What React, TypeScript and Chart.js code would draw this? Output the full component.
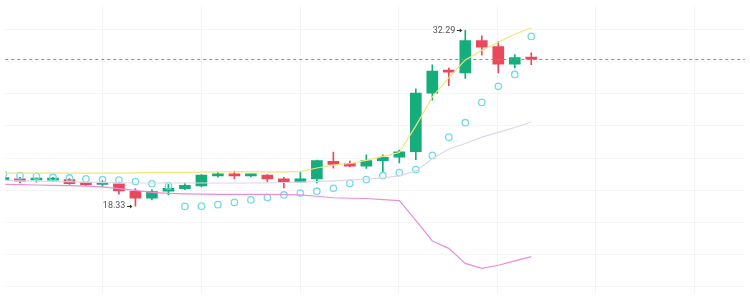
import React, { useEffect, useRef } from 'react';
import { Chart, registerables } from 'chart.js';

Chart.register(...registerables);

// ---- data ----
const candleIndex = [0, 1, 2, 3, 4, 5, 6, 7, 8, 9, 10, 11, 12, 13, 14, 15, 16, 17, 18, 19, 20, 21, 22, 23, 24, 25, 26, 27, 28, 29, 30, 31, 32];

const opens = [20.44, 20.50, 20.41, 20.40, 20.44, 20.11, 20.06, 20.11, 19.50, 18.96, 19.52, 19.71, 19.94, 20.73, 20.88, 20.73, 20.80, 20.50, 20.24, 20.50, 21.90, 21.72, 21.51, 21.95, 22.22, 22.66, 27.31, 29.13, 28.92, 31.47, 31.01, 29.61, 30.12];
const closes = [20.47, 20.32, 20.43, 20.52, 20.11, 20.04, 20.17, 19.55, 18.96, 19.48, 19.75, 19.98, 20.80, 20.88, 20.73, 20.82, 20.50, 20.24, 20.50, 21.95, 21.64, 21.51, 21.95, 22.20, 22.64, 27.31, 29.05, 28.97, 31.47, 30.96, 29.61, 30.12, 30.01];
const highs = [20.55, 20.63, 20.57, 20.63, 20.52, 20.19, 20.37, 20.24, 19.73, 19.65, 20.06, 20.17, 20.84, 21.01, 21.11, 20.88, 20.84, 20.63, 21.09, 21.99, 22.62, 21.91, 22.41, 22.41, 22.79, 27.64, 29.55, 29.30, 32.29, 31.85, 31.39, 30.37, 30.50];
const lows = [20.36, 20.17, 20.24, 20.32, 20.06, 19.96, 19.86, 19.29, 18.33, 18.83, 19.22, 19.65, 19.86, 20.63, 20.50, 20.65, 20.27, 19.78, 20.21, 20.17, 21.34, 21.45, 21.32, 21.01, 21.77, 22.03, 26.75, 27.90, 28.48, 30.32, 28.92, 29.30, 29.56];

const sarValues = [20.88, 20.75, 20.70, 20.63, 20.57, 20.50, 20.44, 20.40, 20.29, 20.11, 19.94, 18.31, 18.33, 18.45, 18.63, 18.83, 19.02, 19.22, 19.37, 19.52, 19.75, 20.14, 20.44, 20.75, 20.99, 21.24, 22.36, 23.81, 24.96, 26.57, 27.85, 28.79, 31.81];
const upperBand = [20.96, 20.96, 20.96, 20.96, 20.96, 20.96, 20.96, 20.96, 20.98, 21.01, 21.01, 21.01, 21.03, 21.05, 21.05, 21.05, 21.05, 21.05, 21.07, 21.36, 21.59, 21.72, 21.97, 22.28, 22.59, 24.71, 27.00, 28.54, 29.94, 30.70, 31.35, 31.98, 32.50];
const middleBand = [20.38, 20.34, 20.32, 20.29, 20.27, 20.24, 20.21, 20.19, 20.17, 20.17, 20.17, 20.17, 20.17, 20.17, 20.17, 20.17, 20.18, 20.21, 20.24, 20.29, 20.34, 20.40, 20.47, 20.57, 20.73, 21.13, 22.10, 22.87, 23.31, 23.81, 24.19, 24.58, 25.01];
const lowerBand = [20.06, 20.04, 20.01, 19.98, 19.96, 19.92, 19.86, 19.73, 19.58, 19.42, 19.35, 19.31, 19.29, 19.27, 19.27, 19.27, 19.27, 19.25, 19.22, 19.12, 19.00, 18.96, 18.94, 18.85, 18.77, 17.20, 15.57, 14.98, 13.79, 13.40, 13.64, 13.99, 14.32];

const xRange = [0.11, 44.94];
const yRange = [11.38, 34.28];
const gridColumns = [100, 200, 300, 400, 500, 600, 700];
const gridRows = [25, 58.33, 91.67, 125, 158.33, 191.67, 225, 258.33, 291.67];

const UP = '#16ad7d';
const DOWN = '#e84a5c';
const GRID = 'rgba(0,0,0,0.04)';

const candleColors = candleIndex.map((i) => (closes[i] >= opens[i] ? UP : DOWN));

const overlayPlugin = {
  id: 'overlay',
  afterDatasetsDraw(chart: any) {
    const { ctx, chartArea } = chart;
    const x = chart.scales.x;
    const y = chart.scales.y;
    // last price dashed line
    const last = closes[closes.length - 1];
    const ly = Math.round(y.getPixelForValue(last)) + 0.5;
    ctx.save();
    ctx.strokeStyle = '#ea6270';
    ctx.lineWidth = 1;
    ctx.setLineDash([3, 3]);
    ctx.beginPath();
    ctx.moveTo(chartArea.left, ly);
    ctx.lineTo(chartArea.right, ly);
    ctx.stroke();
    ctx.restore();

    // extremes
    let hi = 0;
    let lo = 0;
    highs.forEach((v, i) => { if (v > highs[hi]) hi = i; });
    lows.forEach((v, i) => { if (v < lows[lo]) lo = i; });
    const mark = (i: number, v: number) => {
      const px = x.getPixelForValue(candleIndex[i]);
      const py = y.getPixelForValue(v);
      ctx.save();
      ctx.font = '9px Roboto, "Liberation Sans", sans-serif';
      ctx.fillStyle = '#555';
      ctx.textAlign = 'right';
      ctx.textBaseline = 'middle';
      ctx.fillText(v.toFixed(2), px - 10, py);
      ctx.strokeStyle = '#333';
      ctx.fillStyle = '#333';
      ctx.lineWidth = 1;
      const ay = Math.round(py) + 0.5;
      ctx.beginPath();
      ctx.moveTo(px - 8.5, ay);
      ctx.lineTo(px - 5, ay);
      ctx.stroke();
      ctx.beginPath();
      ctx.moveTo(px - 3, ay);
      ctx.lineTo(px - 5.5, ay - 2);
      ctx.lineTo(px - 5.5, ay + 2);
      ctx.closePath();
      ctx.fill();
      ctx.restore();
    };
    mark(hi, highs[hi]);
    mark(lo, lows[lo]);
  },
};

export default function App() {
  const canvasRef = useRef<HTMLCanvasElement | null>(null);

  useEffect(() => {
    if (!canvasRef.current) return;
    const chart = new Chart(canvasRef.current, {
      type: 'bar',
      data: {
        datasets: [
          {
            type: 'line',
            data: candleIndex.map((i) => ({ x: i, y: upperBand[i] })),
            borderColor: '#f5e27c',
            borderWidth: 1.2,
            pointRadius: 0,
            tension: 0,
            order: 0,
          } as any,
          {
            type: 'line',
            data: candleIndex.map((i) => ({ x: i, y: middleBand[i] })),
            borderColor: '#ddd6e8',
            borderWidth: 1.2,
            pointRadius: 0,
            tension: 0,
            order: 0,
          } as any,
          {
            type: 'line',
            data: candleIndex.map((i) => ({ x: i, y: lowerBand[i] })),
            borderColor: '#ea8ed8',
            borderWidth: 1.2,
            pointRadius: 0,
            tension: 0,
            order: 0,
          } as any,
          {
            type: 'line',
            data: candleIndex.map((i) => ({ x: i, y: sarValues[i] })),
            showLine: false,
            pointRadius: 3.2,
            pointStyle: 'circle',
            pointBorderColor: '#72dbe8',
            pointBackgroundColor: 'rgba(255,255,255,0)',
            pointBorderWidth: 1.3,
            order: 0,
          } as any,
          {
            type: 'bar',
            data: candleIndex.map((i) => ({ x: i, y: [lows[i], highs[i]] })),
            backgroundColor: candleColors,
            barThickness: 1,
            grouped: false,
            order: 2,
          } as any,
          {
            type: 'bar',
            data: candleIndex.map((i) => ({ x: i, y: [opens[i], closes[i]] })),
            backgroundColor: candleColors,
            barThickness: 11,
            minBarLength: 2,
            grouped: false,
            order: 1,
          } as any,
        ],
      },
      options: {
        responsive: false,
        animation: false,
        devicePixelRatio: 1,
        layout: { padding: 0 },
        plugins: { legend: { display: false }, tooltip: { enabled: false } },
        scales: {
          x: {
            type: 'linear',
            display: false,
            offset: false,
            min: xRange[0],
            max: xRange[1],
            grid: { offset: false },
          },
          y: {
            type: 'linear',
            display: false,
            min: yRange[0],
            max: yRange[1],
          },
          gx: {
            type: 'linear',
            position: 'bottom',
            axis: 'x',
            offset: false,
            min: 1,
            max: 751,
            afterBuildTicks: (s: any) => { s.ticks = gridColumns.map((v) => ({ value: v })); },
            ticks: { display: false },
            grid: { color: GRID, drawTicks: false, offset: false, lineWidth: 1 },
            border: { display: false },
          },
          gy: {
            type: 'linear',
            position: 'left',
            axis: 'y',
            offset: false,
            reverse: true,
            min: 0,
            max: 299,
            afterBuildTicks: (s: any) => { s.ticks = gridRows.map((v) => ({ value: v })); },
            ticks: { display: false },
            grid: { color: GRID, drawTicks: false, offset: false, lineWidth: 1 },
            border: { display: false },
          },
        },
      } as any,
      plugins: [overlayPlugin],
    });
    return () => chart.destroy();
  }, []);

  return (
    <div style={{ position: 'fixed', left: 0, top: 0, width: 750, height: 299, background: '#fff' }}>
      <canvas ref={canvasRef} width={750} height={299} style={{ display: 'block' }} />
    </div>
  );
}
